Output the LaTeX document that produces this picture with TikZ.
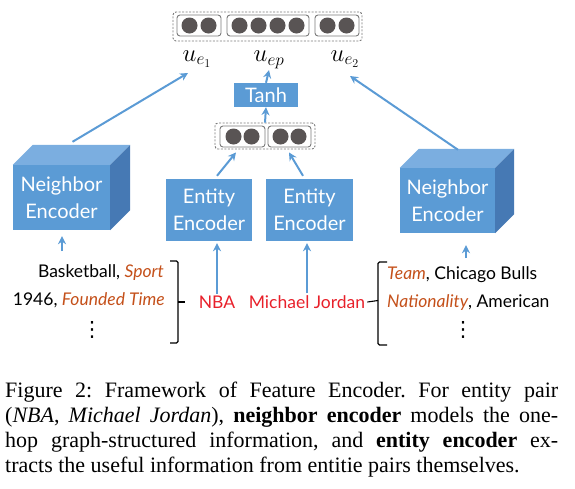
\documentclass[tikz,border=0pt]{standalone}
\usepackage{fontspec}
\setmainfont{Liberation Serif}
\newfontfamily\gill{Lato}
\newfontfamily\dejavu{DejaVu Sans}
\usetikzlibrary{arrows.meta,calc,backgrounds}
\definecolor{eblue}{HTML}{5B9BD5}
\definecolor{etop}{HTML}{7BAEE0}
\definecolor{eside}{HTML}{4679B4}
\definecolor{dotc}{HTML}{595454}
\definecolor{nred}{HTML}{E8202A}
\definecolor{rorange}{HTML}{C4501A}
\definecolor{boxgray}{HTML}{7A7A7A}
\frenchspacing
\begin{document}
\begin{tikzpicture}[x=1pt,y=-1pt,
  arr/.style={draw=eblue, line width=2pt, -{Stealth[length=8pt,width=8pt]}},
  dbox/.style={draw=boxgray, line width=0.9pt, dash pattern=on 2pt off 1.5pt, rounded corners=3pt, inner sep=0pt},
  ibox/.style={draw=boxgray, line width=0.9pt, rounded corners=3pt, fill=white, inner sep=0pt, minimum height=21pt},
  dotn/.style={circle, fill=dotc, minimum size=16pt, inner sep=0pt},
  enc/.style={text=white, align=center, font=\gill\fontsize{20}{27}\selectfont, inner sep=0pt},
  lab/.style={font=\gill\fontsize{17.5}{20}\selectfont, inner sep=2pt},
  vdt/.style={font=\dejavu\fontsize{21}{21}\selectfont, inner sep=0pt},
  ulab/.style={font=\fontsize{24}{24}\selectfont, inner sep=1pt},
  brk/.style={draw=black, line width=1.1pt, rounded corners=1.5pt},
]
\useasboundingbox (0,0) rectangle (575,488);

% top vector
\node[dbox, minimum width=189pt, minimum height=29pt] (topv) at (267.5,26.5) {};
\node[ibox, minimum width=44pt] (b1) at (199,25.5) {};
\node[ibox, minimum width=82pt] (b2) at (268,25.5) {};
\node[ibox, minimum width=44pt] (b3) at (337,25.5) {};
\foreach \x/\n in {189.5/c1,208.5/c2,239.5/c3,258.5/c4,277.5/c5,296.5/c6,327.5/c7,346.5/c8}
  \node[dotn] (\n) at (\x,25.5) {};

% labels
\node[ulab] (ue1) at (197,59) {$u_{e_1}$};
\node[ulab] (uep) at (269,60) {$u_{ep}$};
\node[ulab] (ue2) at (345,59) {$u_{e_2}$};

% Tanh
\node[fill=eblue, text=white, font=\gill\fontsize{20}{24}\selectfont, minimum width=64pt, minimum height=24pt, inner sep=0pt] (tanh) at (266,95) {Tanh};

% middle vector
\node[dbox, minimum width=100pt, minimum height=26pt] (mid) at (265,136) {};
\node[ibox, minimum width=45pt] (m1) at (242.5,136.5) {};
\node[ibox, minimum width=43pt] (m2) at (289.5,136.5) {};
\foreach \x/\n in {233.5/d1,251.5/d2,280.5/d3,298.5/d4}
  \node[dotn] (\n) at (\x,136.5) {};

% entity encoders
\node[enc, minimum width=86pt, minimum height=62pt] (ee1) at (209,210) {Entity\\Encoder};
\node[enc, minimum width=87pt, minimum height=62pt] (ee2) at (309.5,210) {Entity\\Encoder};
\begin{pgfonlayer}{background}
  \foreach \e in {ee1,ee2}
    \fill[eblue] (\e.south west) -- ([rounded corners=8pt]\e.north west) -- ([rounded corners=8pt]\e.north east) -- (\e.south east) -- cycle;
\end{pgfonlayer}

% neighbor encoders (cubes)
\node[enc, fill=eblue, minimum width=97pt, minimum height=65pt] (ne1) at (61.5,197.5) {Neighbor\\Encoder};
\fill[etop] (ne1.north west) -- ++(20,-20) -- ($(ne1.north east)+(20,-20)$) -- (ne1.north east) -- cycle;
\fill[eside] (ne1.north east) -- ++(20,-20) -- ($(ne1.south east)+(20,-20)$) -- (ne1.south east) -- cycle;

\node[enc, fill=eblue, minimum width=95pt, minimum height=65pt] (ne2) at (447.5,200.5) {Neighbor\\Encoder};
\fill[etop] (ne2.north west) -- ++(19,-19) -- ($(ne2.north east)+(19,-19)$) -- (ne2.north east) -- cycle;
\fill[eside] (ne2.north east) -- ++(19,-19) -- ($(ne2.south east)+(19,-19)$) -- (ne2.south east) -- cycle;

% entity names
\node[lab, text=nred] (nba) at (217,302) {NBA};
\node[lab, text=nred] (mj) at (307,302) {Michael Jordan};

% left neighbors
\node[lab, anchor=east] (l1) at (166,273) {Basketball, \textcolor{rorange}{\itshape Sport}};
\node[lab, anchor=east] (l2) at (167,300) {1946, \textcolor{rorange}{\itshape Founded Time}};
\node[vdt] (l3) at (92,330) {⋮};
\draw[brk] (170,261) -- (178,261) -- (178,343) -- (170,343);
\draw[brk] (178,302) -- (185,302);

% right neighbors
\node[lab, anchor=west] (r1) at (385,275) {\textcolor{rorange}{\itshape Team}, Chicago Bulls};
\node[lab, anchor=west] (r2) at (385,303) {\textcolor{rorange}{\itshape Nationality}, American};
\node[vdt] (r3) at (463,330) {⋮};
\draw[brk] (387,262) -- (378,262) -- (378,345) -- (387,345);
\draw[brk] (mj.east) -- (378,300.5);

% arrows
\draw[arr] ($(ne1.north)+(11,-23)$) -- ($(ue1.center)+(-9,14)$);
\draw[arr] ($(ne2.north)+(10.5,-18)$) -- ($(ue2.center)+(5,17)$);
\draw[arr] (tanh.north) -- (uep.south);
\draw[arr] (mid.north) -- (tanh.south);
\draw[arr] ($(ee1.north)+(8,-3)$) -- ($(mid.south)+(-29,3)$);
\draw[arr] ($(ee2.north)+(-6.5,-3)$) -- ($(mid.south)+(24,3)$);
\draw[arr, shorten >=2pt] (nba.north) -- (nba.north |- ee1.south);
\draw[arr, shorten >=2pt] (mj.north) -- (mj.north |- ee2.south);
\coordinate (a9) at (62,251);
\draw[arr, shorten >=6pt] (a9) -- (a9 |- ne1.south);
\coordinate (a10) at (466,258);
\draw[arr, shorten >=12pt] (a10) -- (a10 |- ne2.south);

% caption
\node[anchor=north west, text width=553pt, align=justify, inner sep=0pt,
      font=\fontsize{22}{25}\selectfont] (cap) at (5,382)
 {Figure 2: Framework of Feature Encoder. For entity pair\linebreak
  (\textit{NBA}, \textit{Michael Jordan}), \textbf{neighbor encoder} models the one-\linebreak
  hop graph-structured information, and \textbf{entity encoder} ex-\linebreak
  tracts the useful information from entitie pairs themselves.};
\end{tikzpicture}
\end{document}
